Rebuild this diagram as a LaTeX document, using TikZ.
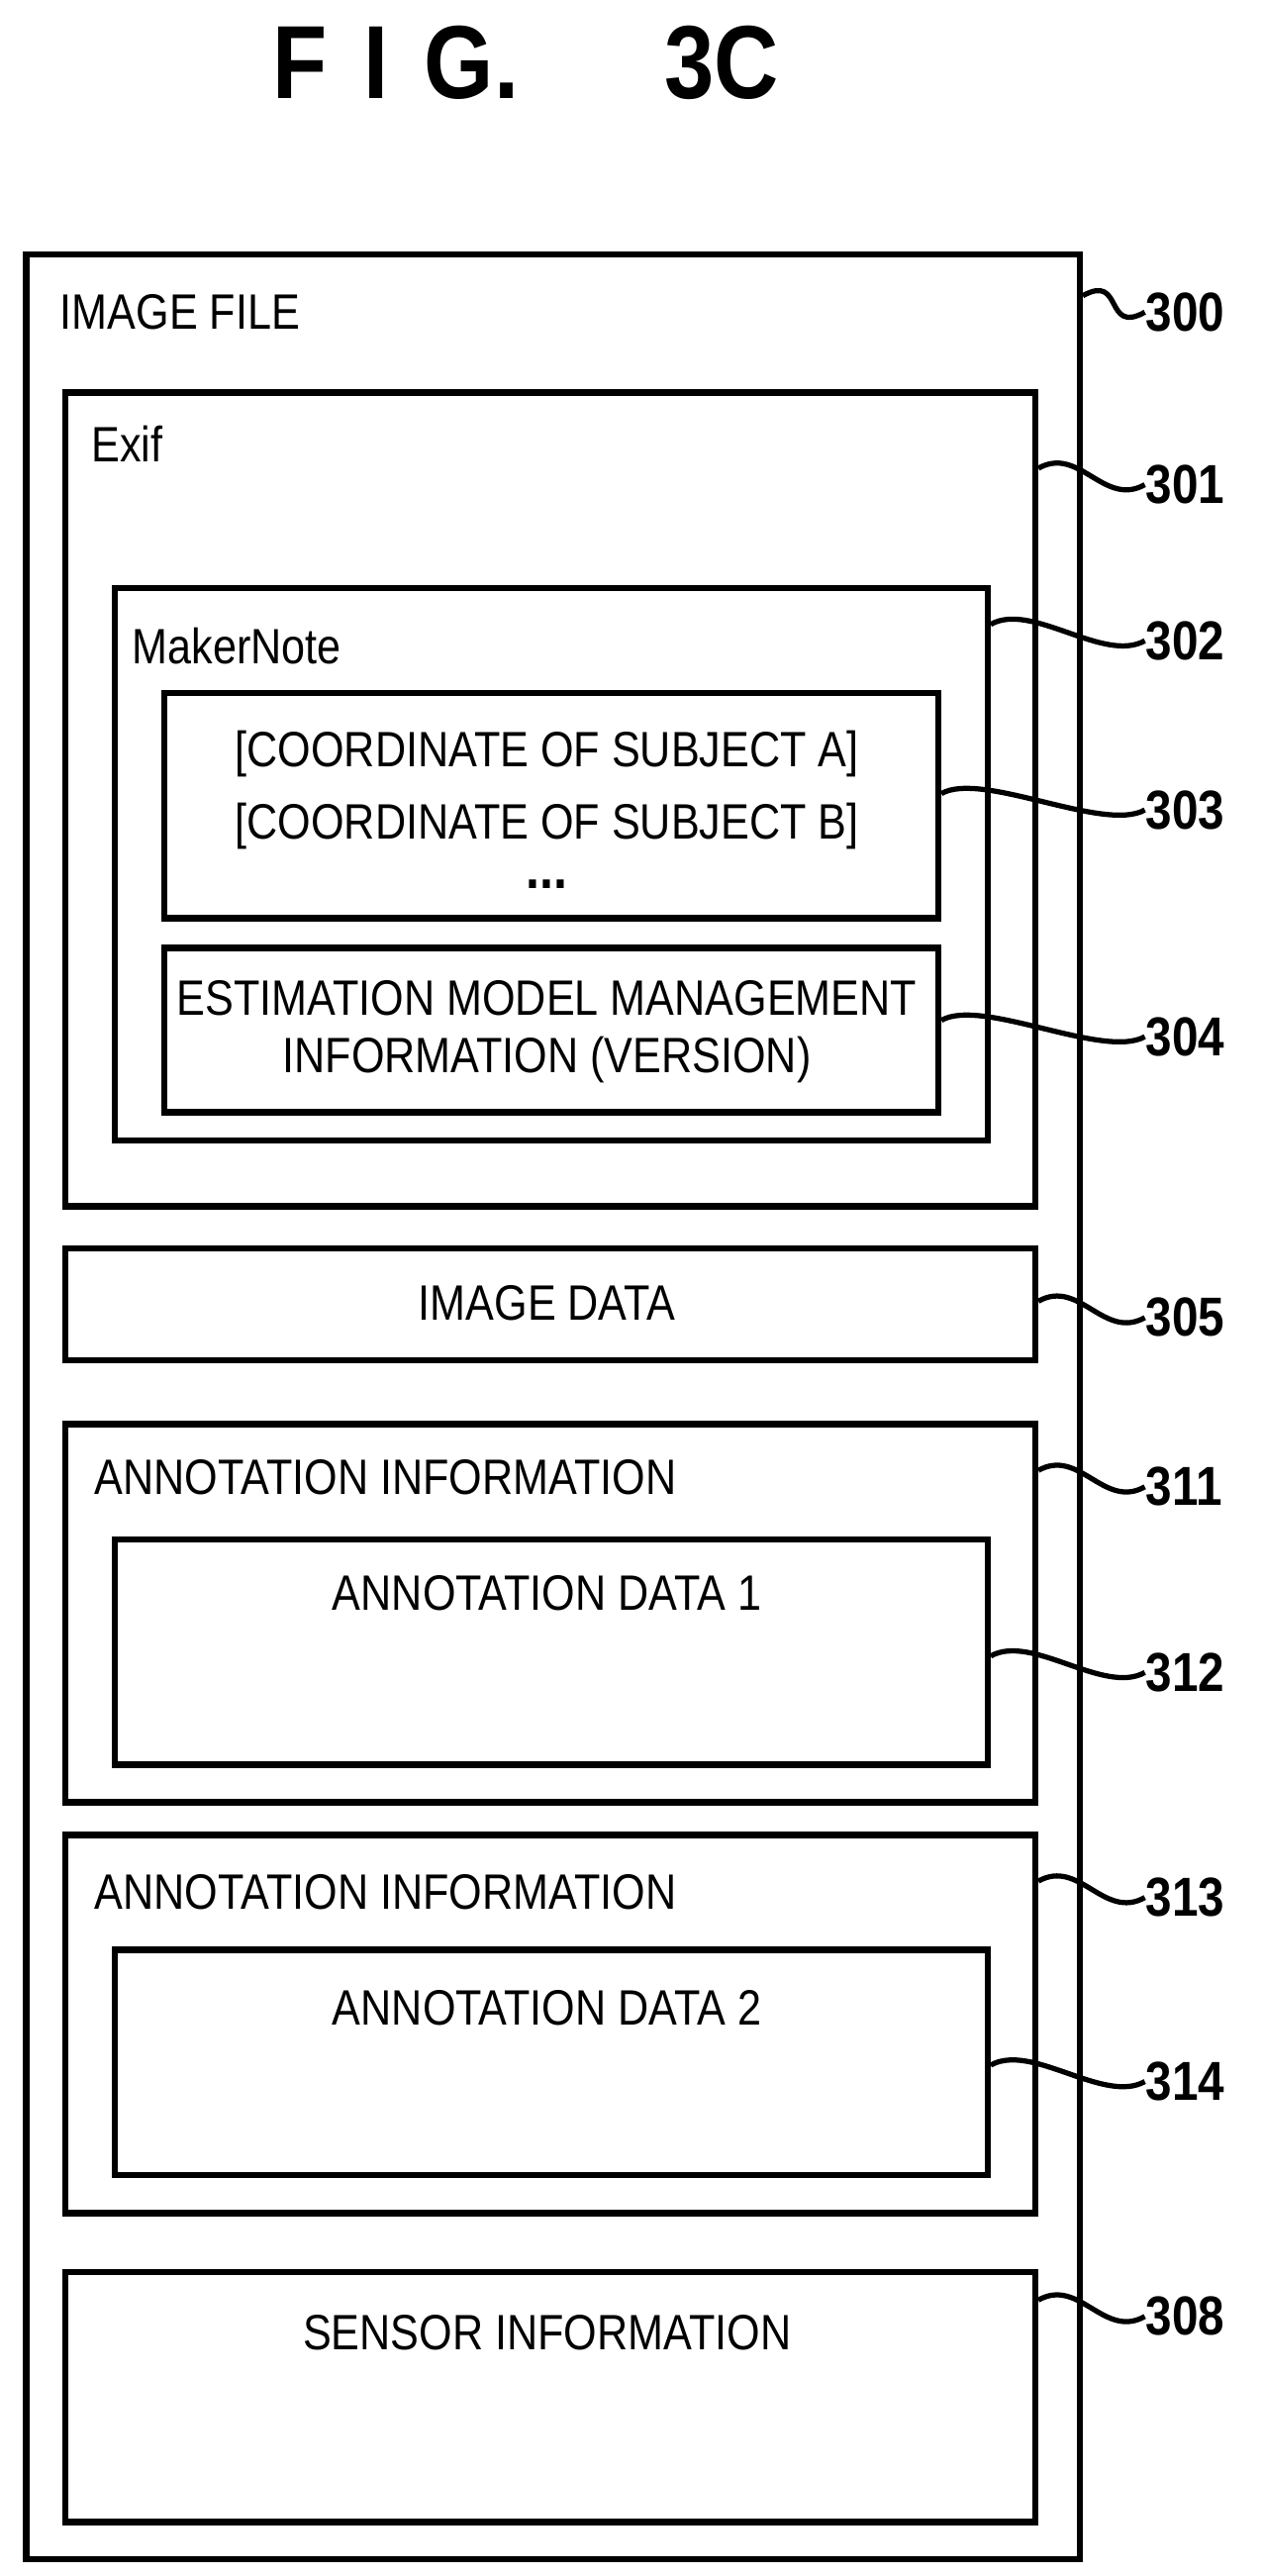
\documentclass[tikz,border=0pt]{standalone}
\usepackage{fontspec}
\setmainfont[FakeStretch=0.86]{Liberation Sans}
\usetikzlibrary{positioning,calc}

\tikzset{
    box/.style={draw, line width=1.1pt, anchor=north west, inner sep=0pt},
    txt/.style={font=\fontsize{8.6}{10}\selectfont, inner sep=0pt},
    num/.style={font=\bfseries\fontsize{9.5}{11}\selectfont, anchor=west, inner sep=0pt},
    lead/.style={line width=0.9pt}
}

\begin{document}
\begin{tikzpicture}[x=0.01cm,y=0.01cm]
                        \useasboundingbox (0,0) rectangle (768,-1568);
                        \node [font=\bfseries\fontsize{18}{22}\selectfont] (title) at (320,-38) {F\hspace{0.35em}I\hspace{0.35em}G.\hspace{1.4em}3C};
                        % boxes
                        \node [box, minimum width=6.41cm, minimum height=14.02cm] (file) at (14,-153) {};
                        \node [box, minimum width=5.90cm, minimum height=4.95cm] (exif) at (38,-237) {};
                        \node [box, minimum width=5.31cm, minimum height=3.36cm] (maker) at (68,-356) {};
                        \node [box, minimum width=4.71cm, minimum height=1.37cm] (coord) at (98,-420) {};
                        \node [box, minimum width=4.71cm, minimum height=1.00cm] (model) at (98,-575) {};
                        \node [box, minimum width=5.90cm, minimum height=0.68cm] (imgdata) at (38,-758) {};
                        \node [box, minimum width=5.90cm, minimum height=2.30cm] (annoA) at (38,-865) {};
                        \node [box, minimum width=5.31cm, minimum height=1.37cm] (dataA) at (68,-935) {};
                        \node [box, minimum width=5.90cm, minimum height=2.30cm] (annoB) at (38,-1115) {};
                        \node [box, minimum width=5.31cm, minimum height=1.37cm] (dataB) at (68,-1185) {};
                        \node [box, minimum width=5.90cm, minimum height=1.52cm] (sensor) at (38,-1381) {};
                        % texts
                        \node [txt, anchor=west] (tfile) at (36,-190) {IMAGE FILE};
                        \node [txt, anchor=west] (texif) at (55,-270) {Exif};
                        \node [txt, anchor=west] (tmaker) at (80,-393) {MakerNote};
                        \node [txt] (tsubA) at (333,-459) {[COORDINATE OF SUBJECT A]};
                        \node [txt] (tsubB) at (333,-503) {[COORDINATE OF SUBJECT B]};
                        \node [txt, font=\bfseries\fontsize{10}{10}\selectfont] (tdots) at (333,-538) {...};
                        \node [txt, align=center] (tmodel) at (333,-628) {ESTIMATION MODEL MANAGEMENT\\INFORMATION (VERSION)};
                        \node [txt] (timg) at (333,-793) {IMAGE DATA};
                        \node [txt, anchor=west] (tannoA) at (57,-899) {ANNOTATION INFORMATION};
                        \node [txt] (tdataA) at (333,-970) {ANNOTATION DATA 1};
                        \node [txt, anchor=west] (tannoB) at (57,-1152) {ANNOTATION INFORMATION};
                        \node [txt] (tdataB) at (333,-1222) {ANNOTATION DATA 2};
                        \node [txt] (tsensor) at (333,-1420) {SENSOR INFORMATION};
                        % reference numbers with leaders
                        \foreach \b/\n/\y in {file/300/190, exif/301/295, maker/302/390, coord/303/493,
                                              model/304/631, imgdata/305/802, annoA/311/905, dataA/312/1018,
                                              annoB/313/1155, dataB/314/1267, sensor/308/1410}
                        {
                            \node [num] (n\n) at (697,-\y) {\n};
                            \coordinate (s\n) at (\b.east |- 0,-\y+10);
                            \draw [lead] (s\n) .. controls ($(s\n)+(25,14)$) and ($(n\n.west)+(-25,-14)$) .. (n\n.west);
                        }
                    \end{tikzpicture}
\end{document}
